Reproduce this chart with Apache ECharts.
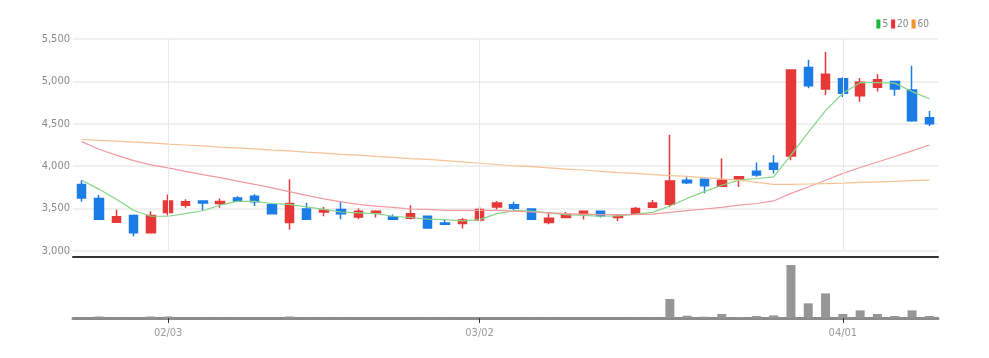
<!DOCTYPE html>
<html>
<head>
<meta charset="utf-8">
<script src="https://cdn.jsdelivr.net/npm/echarts@6/dist/echarts.min.js"></script>
<style>
html,body{margin:0;padding:0;background:#fff;}
#chart{width:989px;height:358px;}
</style>
</head>
<body>
<div id="chart"></div>
<script>
// ---- data ----
var dates = ['01/24','01/25','01/26','01/27','01/28','02/03','02/04','02/07','02/08','02/09',
  '02/10','02/11','02/14','02/15','02/16','02/17','02/18','02/21','02/22','02/23',
  '02/24','02/25','02/28','03/02','03/03','03/04','03/07','03/08','03/10','03/11',
  '03/14','03/15','03/16','03/17','03/18','03/21','03/22','03/23','03/24','03/25',
  '03/28','03/29','03/30','03/31','04/01','04/04','04/05','04/06','04/07','04/08'];
var tickLabels = ['02/03','03/02','04/01'];
var opens  = [3785,3620,3340,3420,3215,3455,3540,3590,3560,3625,3645,3545,3335,3495,3460,3490,3400,3450,3400,3385,
  3410,3330,3325,3365,3520,3545,3495,3335,3395,3440,3470,3395,3435,3515,3550,3835,3845,3765,3845,3940,
  4035,4120,5165,4910,5030,4830,4930,5000,4900,4570];
var closes = [3625,3375,3405,3215,3420,3590,3580,3565,3585,3590,3580,3440,3560,3375,3480,3440,3470,3470,3375,3440,
  3270,3315,3365,3490,3565,3505,3375,3385,3430,3470,3415,3410,3500,3565,3825,3805,3770,3835,3875,3895,
  3965,5135,4950,5085,4860,4990,5020,4910,4535,4500];
var lows   = [3580,3370,3340,3175,3205,3420,3510,3480,3510,3580,3530,3435,3255,3370,3410,3375,3375,3395,3365,3370,
  3265,3305,3265,3345,3490,3480,3370,3315,3395,3370,3395,3355,3435,3510,3515,3790,3680,3765,3755,3875,
  3915,4070,4920,4840,4815,4760,4880,4830,4525,4475];
var highs  = [3835,3660,3485,3430,3470,3665,3610,3595,3620,3645,3670,3550,3845,3570,3520,3590,3500,3480,3430,3540,
  3415,3365,3390,3520,3590,3580,3500,3460,3460,3475,3475,3430,3520,3600,4370,3870,3850,4090,3880,4045,
  4130,5135,5255,5350,5050,5040,5085,5005,5185,4650];
var ma5  = [3835,3730,3610,3480,3410,3410,3440,3475,3540,3585,3585,3560,3550,3520,3490,3460,3450,3440,3410,3395,
  3375,3370,3355,3370,3440,3475,3470,3450,3430,3420,3410,3415,3435,3455,3530,3620,3700,3775,3835,3855,
  3875,4130,4400,4655,4860,4985,4985,4980,4880,4795];
var ma20 = [4290,4200,4130,4065,4015,3980,3940,3900,3865,3825,3785,3745,3700,3655,3615,3580,3550,3530,3515,3495,
  3490,3480,3480,3480,3480,3470,3460,3450,3440,3435,3430,3430,3430,3435,3455,3475,3495,3515,3540,3560,
  3590,3680,3755,3835,3915,3985,4050,4115,4180,4250];
var ma60 = [4315,4305,4295,4285,4275,4260,4250,4240,4225,4215,4205,4190,4180,4165,4155,4140,4130,4115,4105,4090,
  4080,4065,4050,4035,4020,4005,3995,3980,3965,3955,3940,3925,3915,3900,3890,3880,3865,3850,3835,3810,
  3785,3785,3790,3795,3800,3810,3815,3820,3830,3835];
var volumes = [80000,270000,80000,80000,270000,270000,80000,80000,80000,80000,80000,80000,270000,80000,80000,80000,80000,80000,80000,80000,
  80000,80000,80000,80000,80000,80000,80000,80000,80000,80000,80000,80000,80000,80000,3390000,410000,230000,710000,180000,360000,
  460000,9460000,2610000,4390000,710000,1360000,710000,360000,1360000,360000];
var yTicks = {min: 3000, max: 5500, step: 500};

// ---- chart ----
var FONT = "'Liberation Sans Narrow', 'DejaVu Sans Condensed', 'Liberation Sans', sans-serif";
var candleData = opens.map(function (o, i) { return [o, closes[i], lows[i], highs[i]]; });
function isTick(idx, val) { return tickLabels.indexOf(val) >= 0; }

var chart = echarts.init(document.getElementById('chart'), null, {renderer: 'canvas'});
chart.setOption({
  animation: false,
  backgroundColor: '#ffffff',
  textStyle: {fontFamily: FONT},
  legend: {
    data: ['5', '20', '60'],
    right: 60, top: 19,
    icon: 'rect', itemWidth: 4, itemHeight: 9, itemGap: 3,
    padding: 0,
    textStyle: {fontSize: 10, color: '#888', fontFamily: FONT, padding: [0, 0, 0, -3]}
  },
  grid: [
    {left: 73, right: 51, top: 39, height: 212},
    {left: 73, right: 51, top: 262, height: 56}
  ],
  xAxis: [
    {
      type: 'category', data: dates, gridIndex: 0, boundaryGap: true,
      offset: 6,
      axisLine: {show: true, lineStyle: {color: '#333', width: 2}},
      axisTick: {show: false}, axisLabel: {show: false}, splitLine: {show: false}
    },
    {
      type: 'category', data: dates, gridIndex: 1, boundaryGap: true,
      axisLine: {show: true, lineStyle: {color: '#8c8c8c', width: 3}},
      axisTick: {show: true, alignWithLabel: true, interval: isTick, length: 5, lineStyle: {color: '#333', width: 1}},
      axisLabel: {show: true, interval: isTick, margin: 10, fontSize: 11, color: '#999', fontFamily: FONT},
      splitLine: {show: false}
    }
  ],
  yAxis: [
    {
      type: 'value', gridIndex: 0, min: yTicks.min, max: yTicks.max, interval: yTicks.step,
      axisLine: {show: false}, axisTick: {show: false},
      axisLabel: {margin: 3, fontSize: 11, color: '#8a8a8a', fontFamily: FONT,
        formatter: function (v) { return v.toLocaleString('en-US'); }},
      splitLine: {show: true, lineStyle: {color: '#ebebeb', width: 1.5}}
    },
    {
      type: 'value', gridIndex: 1, min: 0, max: 10000000, show: false,
      splitLine: {show: false}
    }
  ],
  series: [
    {
      name: 'candles', type: 'candlestick', xAxisIndex: 0, yAxisIndex: 0,
      data: candleData, barWidth: 9,
      itemStyle: {color: '#e73838', color0: '#1b7ce6', borderColor: '#e73838', borderColor0: '#1b7ce6', borderWidth: 1.5},
      markLine: {
        silent: true, symbol: 'none', label: {show: false},
        lineStyle: {color: '#e8e8e8', width: 1, type: 'solid'},
        data: tickLabels.map(function (t) { return {xAxis: t}; })
      },
      z: 3
    },
    {
      name: '5', type: 'line', data: ma5, xAxisIndex: 0, yAxisIndex: 0,
      showSymbol: false, symbol: 'none', smooth: false,
      itemStyle: {color: '#22b43c'}, lineStyle: {color: '#86d487', width: 1.2}, z: 4
    },
    {
      name: '20', type: 'line', data: ma20, xAxisIndex: 0, yAxisIndex: 0,
      showSymbol: false, symbol: 'none', smooth: false,
      itemStyle: {color: '#ea2f36'}, lineStyle: {color: '#f29a9e', width: 1.2}, z: 4
    },
    {
      name: '60', type: 'line', data: ma60, xAxisIndex: 0, yAxisIndex: 0,
      showSymbol: false, symbol: 'none', smooth: false,
      itemStyle: {color: '#f39233'}, lineStyle: {color: '#f7c394', width: 1.2}, z: 4
    },
    {
      name: 'volume', type: 'bar', data: volumes, xAxisIndex: 1, yAxisIndex: 1,
      barWidth: 9, itemStyle: {color: '#969696'}, z: 3
    }
  ]
});
</script>
</body>
</html>
